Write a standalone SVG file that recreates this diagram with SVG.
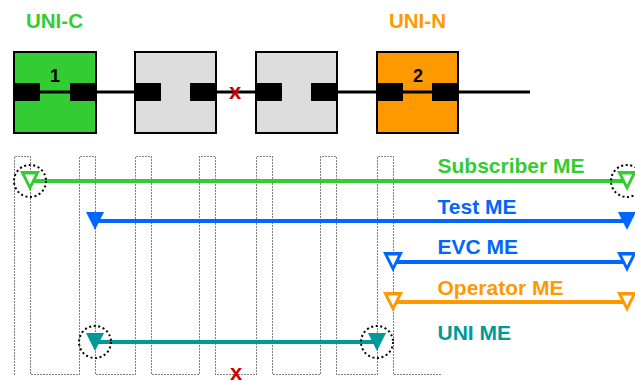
<svg xmlns="http://www.w3.org/2000/svg" width="635" height="381" viewBox="0 0 635 381">
<style>
text{font-family:"Liberation Sans",Arial,sans-serif;font-weight:bold}
.box{stroke:#000;stroke-width:2}
.blk{fill:#000}
.lnk{stroke:#000;stroke-width:3;fill:none}
.dot{fill:none;stroke:#000;stroke-width:1;stroke-dasharray:1 2}
.circ{fill:none;stroke:#000;stroke-width:2;stroke-dasharray:2 2.6}
.me{stroke-width:4;fill:none}
.lbl{font-size:21px}
</style>
<rect width="635" height="381" fill="#fff"/>

<text x="26" y="28" font-size="20.5" fill="#33cc33">UNI-C</text>
<text x="389" y="28" font-size="20.5" fill="#ff9900">UNI-N</text>

<g id="connectors">
<path class="lnk" d="M14 92H160M191 92H281M312 92H530"/>
<path class="dot" d="M14.5 374.5V156.5H30.5V374.5H79.5V156.5H95.5V374.5H135.5V156.5H151.5V374.5H199.5V156.5H215.5V374.5H256.5V156.5H272.5V374.5H320.5V156.5H336.5V374.5H377.5V156.5H393.5V374.5H441"/>
</g>

<g id="node1">
<rect class="box" x="14" y="52" width="82" height="81" fill="#33cc33"/>
<path class="lnk" d="M14 92H96"/>
<rect class="blk" x="14" y="83" width="26" height="18"/>
<rect class="blk" x="70" y="83" width="26" height="18"/>
<text x="55" y="82" font-size="18" text-anchor="middle" fill="#000">1</text>
</g>
<g id="node2">
<rect class="box" x="135" y="52" width="81" height="81" fill="#dddddd"/>
<rect class="blk" x="135" y="83" width="26" height="18"/>
<rect class="blk" x="190" y="83" width="26" height="18"/>
</g>
<g id="node3">
<rect class="box" x="256" y="52" width="81" height="81" fill="#dddddd"/>
<rect class="blk" x="256" y="83" width="26" height="18"/>
<rect class="blk" x="311" y="83" width="26" height="18"/>
</g>
<g id="node4">
<rect class="box" x="377" y="52" width="81" height="81" fill="#ff9900"/>
<path class="lnk" d="M377 92H458"/>
<rect class="blk" x="377" y="83" width="26" height="18"/>
<rect class="blk" x="432" y="83" width="26" height="18"/>
<text x="418" y="82" font-size="18" text-anchor="middle" fill="#000">2</text>
</g>

<text x="235" y="99" font-size="22" text-anchor="middle" fill="#cc0000">x</text>
<text x="236" y="380" font-size="22" text-anchor="middle" fill="#cc0000">x</text>

<g id="subscriber-me">
<path class="me" stroke="#33cc33" d="M30 181H627"/>
<path fill="#33cc33" d="M20 171H40L30 191Z"/><path fill="#fff" d="M25 174.5H35L30 184.5Z"/>
<path fill="#33cc33" d="M617 171H637L627 191Z"/><path fill="#fff" d="M622 174.5H632L627 184.5Z"/>
<circle class="circ" cx="30" cy="181" r="16"/>
<circle class="circ" cx="627" cy="181" r="16"/>
<text class="lbl" x="437.5" y="173" fill="#33cc33">Subscriber ME</text>
</g>
<g id="test-me">
<path class="me" stroke="#0066ff" d="M95 221H627"/>
<path fill="#0066ff" d="M86 212H104L95 230Z"/>
<path fill="#0066ff" d="M618 212H636L627 230Z"/>
<text class="lbl" x="437.5" y="214" fill="#0066ff">Test ME</text>
</g>
<g id="evc-me">
<path class="me" stroke="#0066ff" d="M393 262H627"/>
<path fill="#0066ff" d="M383 252H403L393 272Z"/><path fill="#fff" d="M388 255.5H398L393 265.5Z"/>
<path fill="#0066ff" d="M617 252H637L627 272Z"/><path fill="#fff" d="M622 255.5H632L627 265.5Z"/>
<text class="lbl" x="437.5" y="254" fill="#0066ff">EVC ME</text>
</g>
<g id="operator-me">
<path class="me" stroke="#ff9900" d="M393 302H627"/>
<path fill="#ff9900" d="M383 292H403L393 312Z"/><path fill="#fff" d="M388 295.5H398L393 305.5Z"/>
<path fill="#ff9900" d="M617 292H637L627 312Z"/><path fill="#fff" d="M622 295.5H632L627 305.5Z"/>
<text class="lbl" x="437.5" y="295" fill="#ff9900">Operator ME</text>
</g>
<g id="uni-me">
<path class="me" stroke="#009999" d="M95 342H377"/>
<path fill="#009999" d="M86 333H104L95 351Z"/>
<path fill="#009999" d="M368 333H386L377 351Z"/>
<circle class="circ" cx="95" cy="342" r="16"/>
<circle class="circ" cx="377" cy="342" r="16"/>
<text class="lbl" x="437.5" y="340" fill="#009999">UNI ME</text>
</g>
</svg>
